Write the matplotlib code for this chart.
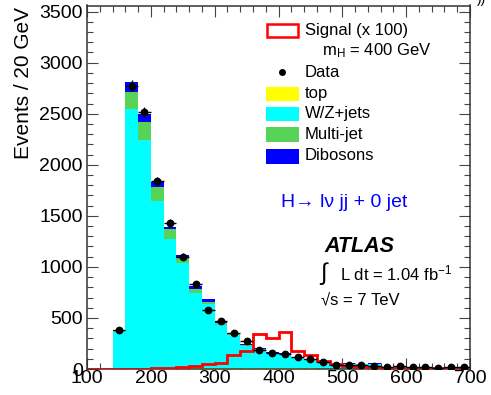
import numpy as np
import matplotlib
matplotlib.use("Agg")
import matplotlib.pyplot as plt
from matplotlib.patches import Rectangle
from matplotlib.ticker import MultipleLocator

plt.rcParams["font.family"] = ["Liberation Sans", "DejaVu Sans"]
plt.rcParams["mathtext.fontset"] = "custom"
plt.rcParams["mathtext.rm"] = "Liberation Sans"
plt.rcParams["mathtext.it"] = "Liberation Sans:italic"

# background bins: 140-700 GeV, 20 GeV wide
bin_low = np.arange(140, 700, 20)
top = [2, 4, 5, 6, 7, 7, 7, 7, 8, 8, 8, 7, 6, 6, 5, 5, 4, 3, 3, 3, 2, 2, 2, 1, 1, 1, 1, 1]
wzjets = [363, 2542, 2233, 1644, 1270, 1029, 741, 630, 423, 325, 217, 183, 149, 142, 110, 85,
          64, 43, 49, 42, 50, 18, 18, 13, 13, 10, 12, 12]
multijet = [10, 163, 177, 131, 93, 49, 39, 23, 20, 8, 8, 5, 3, 3, 2, 2, 1, 1, 1, 1, 1, 1, 0, 0, 0, 0, 0, 0]
dibosons = [8, 98, 80, 55, 25, 33, 27, 26, 16, 15, 12, 8, 5, 4, 4, 3, 3, 2, 2, 2, 2, 1, 1, 1, 1, 1, 1, 1]
data = [385, 2775, 2515, 1840, 1428, 1101, 833, 578, 470, 350, 277, 186, 152, 150, 114, 97,
        67, 42, 39, 39, 33, 23, 26, 16, 21, 10, 16, 20]

# signal (x 100), bins 100-700 GeV
sig_low = np.arange(100, 700, 20)
signal = [0, 0, 1, 2, 3, 5, 8, 15, 30, 48, 62, 135, 180, 340, 305, 358, 175, 142, 80, 48,
          30, 22, 15, 12, 10, 8, 6, 5, 4, 3]

fig = plt.figure(figsize=(4.91, 3.95), dpi=100)
ax = fig.add_axes([87 / 491, 26 / 395, 383 / 491, 363.5 / 395])

width = 20
colors = {"top": "#ffff00", "wz": "#00ffff", "mj": "#57d357", "db": "#0000ff"}
bottom = np.zeros(len(bin_low))
for vals, c in [(top, colors["top"]), (wzjets, colors["wz"]),
                (multijet, colors["mj"]), (dibosons, colors["db"])]:
    ax.bar(bin_low, vals, width=width, bottom=bottom, align="edge", color=c,
           linewidth=0, zorder=2)
    bottom = bottom + np.array(vals)

# signal step outline
edges = np.append(sig_low, 700)
ax.stairs(signal, edges, color="#ff0000", linewidth=2.0, zorder=3)

# data with errors
centers = bin_low + width / 2
d = np.array(data, dtype=float)
ax.errorbar(centers, d, yerr=np.sqrt(d), xerr=width / 2, fmt="o", color="black",
            markersize=4.6, elinewidth=1.0, capsize=0, zorder=4)

ax.set_xlim(100, 700)
ax.set_ylim(0, 3560)
ax.xaxis.set_major_locator(MultipleLocator(100))
ax.xaxis.set_minor_locator(MultipleLocator(20))
ax.yaxis.set_major_locator(MultipleLocator(500))
ax.yaxis.set_minor_locator(MultipleLocator(100))
ax.tick_params(which="both", direction="in", top=True, right=True, color="#444444",
               width=0.8, labelsize=14)
ax.tick_params(which="major", length=8)
ax.tick_params(which="minor", length=4.3)
ax.tick_params(axis="x", pad=1)
ax.tick_params(axis="y", pad=3)
for s in ax.spines.values():
    s.set_linewidth(1.1)
    s.set_color("#333333")

ax.set_ylabel("Events / 20 GeV", fontsize=15, loc="top")
ax.yaxis.set_label_coords(-0.14, 0.995)

# legend drawn by hand
tf = ax.transAxes
bx0, bw = 0.467, 0.087
ax.add_patch(Rectangle((bx0 + 0.003, 0.913), bw - 0.006, 0.037, transform=tf,
                       facecolor="white", edgecolor="#ff0000", linewidth=1.8, zorder=5))
for (y0, y1), c in [((0.737, 0.776), colors["top"]), ((0.682, 0.721), colors["wz"]),
                    ((0.624, 0.666), colors["mj"]), ((0.564, 0.605), colors["db"])]:
    ax.add_patch(Rectangle((bx0, y0), bw, y1 - y0, transform=tf, facecolor=c,
                           edgecolor="none", zorder=5))
ax.plot([0.509], [0.817], "o", color="black", markersize=4, transform=tf, zorder=5)

lfs = 12
tx = 0.569
ax.text(tx, 0.930, "Signal (x 100)", transform=tf, fontsize=lfs, va="center")
ax.text(0.614, 0.876, r"m$_{\mathrm{H}}$ = 400 GeV", transform=tf, fontsize=lfs, va="center")
ax.text(tx, 0.817, "Data", transform=tf, fontsize=lfs, va="center")
ax.text(tx, 0.757, "top", transform=tf, fontsize=lfs, va="center")
ax.text(tx, 0.702, "W/Z+jets", transform=tf, fontsize=lfs, va="center")
ax.text(tx, 0.646, "Multi-jet", transform=tf, fontsize=lfs, va="center")
ax.text(tx, 0.586, "Dibosons", transform=tf, fontsize=lfs, va="center")

ax.text(0.507, 0.457, "H\u2192 l\u03bd jj + 0 jet", transform=tf, fontsize=14,
        color="#0000ff", va="center")
ax.text(0.621, 0.336, "ATLAS", transform=tf, fontsize=15.5, fontweight="bold",
        fontstyle="italic", va="center")
ax.text(0.610, 0.262, "\u222b", transform=tf, fontsize=17, va="center")
ax.text(0.660, 0.264, r"L dt = 1.04 fb$^{\mathrm{-1}}$", transform=tf, fontsize=12,
        va="center")
ax.text(0.610, 0.190, "\u221as = 7 TeV", transform=tf, fontsize=12, va="center")

fig.text(0.972, 1.003, "))", fontsize=10, va="center")

fig.savefig("out.png", dpi=100)
